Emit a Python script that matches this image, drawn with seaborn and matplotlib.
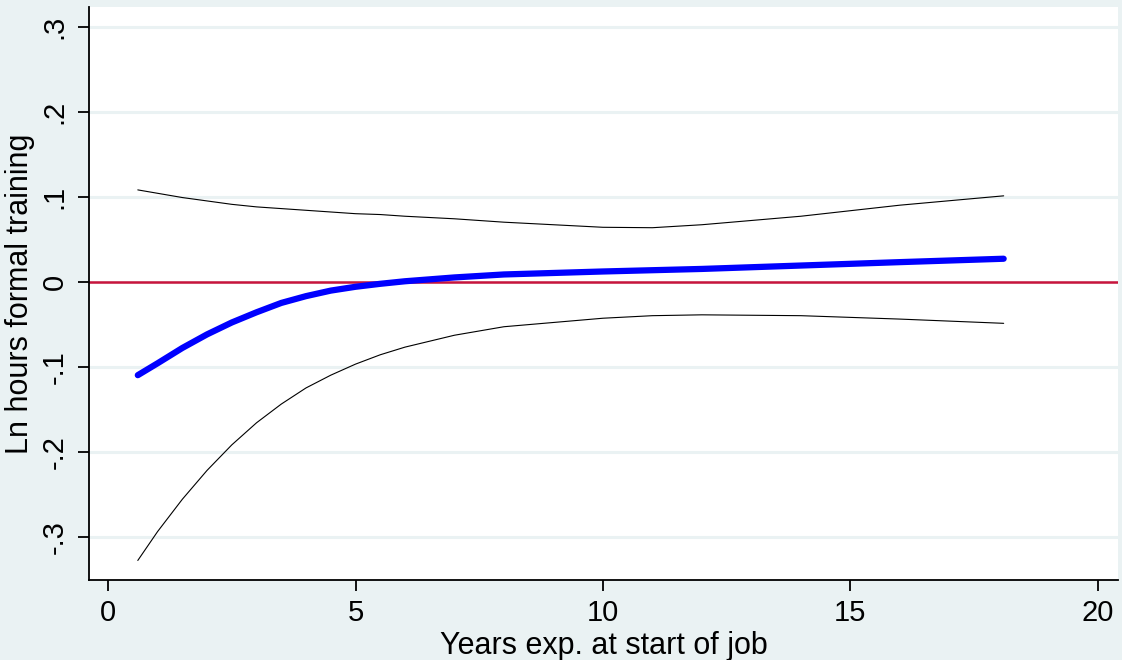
import matplotlib
matplotlib.use("Agg")
import matplotlib.pyplot as plt
import seaborn as sns
import pandas as pd

# Data
years = [0.6, 1.0, 1.5, 2.0, 2.5, 3.0, 3.5, 4.0, 4.5, 5.0, 5.5, 6.0, 7.0, 8.0,
         10.0, 11.0, 12.0, 14.0, 16.0, 18.1]
estimate = [-0.110, -0.096, -0.078, -0.062, -0.048, -0.036, -0.025, -0.017, -0.0105, -0.006,
            -0.0025, 0.0005, 0.005, 0.0085, 0.012, 0.0135, 0.015, 0.019, 0.023, 0.027]
upper_ci = [0.108, 0.104, 0.099, 0.095, 0.091, 0.088, 0.086, 0.084, 0.082, 0.080,
            0.079, 0.077, 0.074, 0.070, 0.064, 0.0635, 0.067, 0.077, 0.090, 0.101]
lower_ci = [-0.328, -0.294, -0.256, -0.222, -0.192, -0.166, -0.144, -0.125, -0.110, -0.097,
            -0.086, -0.077, -0.063, -0.053, -0.043, -0.040, -0.039, -0.040, -0.044, -0.049]

x_ticks = [0, 5, 10, 15, 20]
y_ticks = [-0.3, -0.2, -0.1, 0.0, 0.1, 0.2, 0.3]
y_tick_labels = ["-.3", "-.2", "-.1", "0", ".1", ".2", ".3"]

df = pd.DataFrame({"years": years, "estimate": estimate, "upper": upper_ci, "lower": lower_ci})

bg = "#EAF2F3"
sns.set_style("white")
plt.rcParams["font.family"] = ["Liberation Sans", "DejaVu Sans"]
plt.rcParams["text.color"] = "black"
plt.rcParams["xtick.color"] = "black"
plt.rcParams["ytick.color"] = "black"
plt.rcParams["axes.labelcolor"] = "black"

fig = plt.figure(figsize=(11.22, 6.6), dpi=100, facecolor=bg)
ax = fig.add_axes([0.0796, 0.1212, 0.9168, 0.8677])
ax.set_facecolor("white")

# Horizontal grid lines (Stata style)
for yv in y_ticks:
    ax.axhline(yv, color=bg, linewidth=2.2, zorder=0)

# Confidence bands and estimate
sns.lineplot(data=df, x="years", y="upper", color="black", linewidth=0.8, ax=ax)
sns.lineplot(data=df, x="years", y="lower", color="black", linewidth=0.8, ax=ax)
ax.axhline(0, color="#C8143C", linewidth=1.8, zorder=2)
sns.lineplot(data=df, x="years", y="estimate", color="#0000FF", linewidth=4.5, ax=ax,
             solid_capstyle="round", solid_joinstyle="round", zorder=3)

ax.set_xlim(-0.38, 20.41)
ax.set_ylim(-0.351, 0.3228)
ax.set_xticks(x_ticks)
ax.set_yticks(y_ticks)
ax.set_yticklabels(y_tick_labels, rotation=90, va="center")

ax.tick_params(axis="both", direction="out", length=8, width=1.3, colors="black",
               labelsize=21, left=True, bottom=True)
ax.tick_params(axis="y", pad=7)
ax.tick_params(axis="x", pad=6)

ax.set_xlabel("Years exp. at start of job", fontsize=22)
ax.set_ylabel("Ln hours formal training", fontsize=22)
ax.xaxis.set_label_coords(0.5, -0.089)
ax.yaxis.set_label_coords(-0.053, 0.5)

sns.despine(ax=ax, top=True, right=True)
for side in ["left", "bottom"]:
    ax.spines[side].set_color("black")
    ax.spines[side].set_linewidth(1.3)

fig.savefig("out.png", dpi=100, facecolor=bg)
